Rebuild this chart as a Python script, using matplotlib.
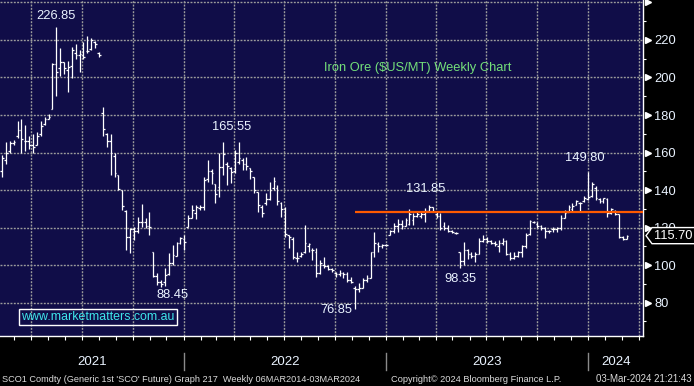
import datetime as dt
import numpy as np
import matplotlib
matplotlib.use("Agg")
import matplotlib.pyplot as plt
import matplotlib.transforms as mtransforms
from matplotlib.patches import Polygon

plt.rcParams['font.family'] = ['Liberation Sans', 'DejaVu Sans']

# weekly OHLC, SCO1 iron ore (first bar week of 1 Feb 2021)
opens = [150, 156, 161, 165, 169, 172, 166, 166, 164, 164,
         170, 175, 178, 183, 207, 205, 208, 204, 206, 213,
         212, 212, 214, 215, 219, 213, 181, 170, 166, 158,
         148, 140, 129, 115, 119, 118, 123, 123, 121, 107,
         94, 91, 91, 95, 101, 105, 112, 114, 120.4, 125,
         128, 130.5, 131, 146, 150, 143, 141.7, 152.4, 154, 152,
         150, 155, 156, 154, 152, 147, 139, 131, 133, 135,
         141, 141, 133, 130, 116, 114, 104, 105, 107, 110,
         108, 107, 96, 100, 99.5, 98, 96, 95.5, 96, 95,
         92, 88, 87, 88, 92, 93, 107, 111, 110, 110.5,
         116, 118, 121, 122, 121, 122, 124, 126, 126, 127,
         129, 131, 127, 126, 121, 120, 118, 117, 107, 102,
         108, 106, 105, 106, 113, 114, 113, 112, 110, 112,
         113, 106, 104, 105, 107, 110, 116.5, 123, 122, 121,
         120, 118, 119, 119, 120, 125, 128.4, 130, 132, 133,
         134, 135, 137, 141, 135, 134, 135, 128, 129, 127,
         115, 114]
highs = [158.6, 165.7, 166, 166.5, 177, 178, 174.6, 169, 170, 171,
         177, 179, 180.5, 207.5, 226.85, 215.5, 208.5, 209, 216, 217.8,
         214.6, 219, 222, 221, 219.6, 213.7, 184, 170.5, 170, 160,
         148, 140, 129.3, 119.7, 120.4, 125.7, 132.5, 124.9, 128.4, 107.1,
         95.7, 92, 98.4, 106.4, 110.6, 112.4, 115.1, 116, 126.6, 132,
         132, 132, 147, 155.9, 151, 143, 159.5, 165.7, 155.1, 152.4,
         161.3, 165.55, 157, 157.5, 152, 147, 139.1, 132, 138.2, 144.4,
         147, 142.6, 133.7, 131, 116, 115.1, 107.1, 107.1, 121.3, 112,
         109, 108.9, 102.6, 104.4, 100, 98.5, 96.5, 97.5, 96.4, 96.4,
         93.4, 89, 90.2, 92.9, 94.6, 107.1, 117.9, 112.4, 111.5, 111,
         118.6, 122.2, 124.3, 124, 124.9, 130.1, 127.5, 128.4, 128.4, 130.2,
         131.85, 131, 128.4, 127.5, 123, 121.3, 118.5, 117.5, 107.1, 112.4,
         108.4, 107, 107.1, 114.2, 116, 115, 113.3, 113, 113.3, 114.2,
         113.3, 107.1, 107, 107.7, 110.6, 116.9, 124, 123.6, 123, 121.3,
         120.4, 118.6, 120.5, 120.4, 126.6, 129.3, 132, 133, 134.6, 133.7,
         136.8, 149.8, 144.4, 142, 135.5, 136, 135.5, 130.5, 129.5, 127,
         115.5, 116]
lows = [147, 153.8, 160, 164, 168, 160, 161, 162, 159.7, 164,
        169, 174.6, 177.8, 183, 190, 201, 202, 192, 199.5, 210,
        203, 210, 212.9, 214.6, 215.5, 210.7, 169, 163, 148, 147,
        140, 129.3, 108, 106.4, 113.3, 117, 120.4, 120, 116, 93.7,
        89.3, 88.45, 89, 94.6, 100, 105, 111.5, 108, 120.4, 124.9,
        124.3, 129.3, 129.3, 144.4, 143, 133, 136.4, 148, 142.6, 143.5,
        148.9, 154, 150.6, 150.6, 146, 138.2, 128.4, 125.7, 132, 134.6,
        140, 132, 125.7, 115.1, 108.9, 103.5, 101.7, 104.4, 106.2, 107,
        102.6, 93.7, 95.5, 98.2, 97.3, 96.5, 93.4, 94, 93, 91.1,
        90.2, 76.85, 85.7, 88, 91.1, 92.9, 104.4, 107, 109, 110,
        116, 116.9, 117.7, 119, 121, 121.3, 121.3, 125.7, 124.9, 123,
        128.4, 128.4, 124.9, 118.6, 118.6, 117.7, 116.9, 116.5, 98.35, 100,
        103.5, 104, 101.7, 106, 112.4, 112, 111.5, 110, 107.1, 110.6,
        105.3, 102.7, 103, 104.4, 104.4, 108.9, 116, 122.2, 120, 118.6,
        114.2, 117.2, 117.5, 117.7, 118.6, 124.9, 128.4, 129, 132, 128.4,
        133.7, 134.6, 136.4, 134.6, 133.2, 132.9, 125.7, 127, 126.6, 114.2,
        113.5, 114]
closes = [157, 160, 165, 165.5, 172, 167, 166, 164, 163, 169,
          174, 178, 179, 207, 203, 208, 205, 205.7, 214.6, 212,
          212.6, 211, 214, 220, 218, 212, 172.5, 166, 160, 149,
          140.5, 131.5, 115, 119.5, 118, 123, 123, 121, 120.5, 94,
          91, 90, 94.6, 101, 105.3, 112, 114.7, 112.4, 125, 129.6,
          130.7, 131, 145.6, 150, 149, 138, 152.4, 159, 153, 149.7,
          160, 157, 154, 153, 150, 140, 132, 128, 135, 140,
          145, 134, 130, 116.5, 115, 104.5, 104, 106, 112, 111,
          108, 96, 101, 99.5, 98, 97.5, 95.5, 96, 95, 92,
          91, 87, 88, 92, 93, 107, 112, 110, 110.5, 110.5,
          118, 121, 122, 121, 124, 127, 126, 127, 127, 129,
          131, 129, 126, 120, 120, 118, 117.5, 117, 102, 108,
          106, 105, 106, 113, 114, 113, 112, 111, 112, 113,
          106, 104, 105, 107, 110, 116, 123.5, 123, 121, 120,
          118, 118, 119, 120, 125, 128, 131, 131.5, 134, 133,
          136, 136.5, 143, 136, 134, 135.5, 128, 130, 127, 115,
          114, 115.7]

first_week = dt.date(2021, 2, 1)
y_major = [80, 100, 120, 140, 160, 180, 200, 220, 240]
y_labels = ['80', '100', '120', '140', '160', '180', '200', '220']
years = [2021, 2022, 2023, 2024]
resistance = 128.3
# (bar, which, dx px, dy px)
callouts = [(14, 'high', 0, 11), (61, 'high', -7, 15), (41, 'low', 11, -8),
            (91, 'low', -19, -1), (110, 'high', -3, 16), (118, 'low', 1, -11),
            (151, 'high', -3, 14)]

navy = '#100d48'
txt = '#eaf3ff'


def pos(d):
    return (d - first_week).days / 7 - 0.9


fig = plt.figure(figsize=(6.94, 3.86), dpi=100, facecolor='black')
ax = fig.add_axes([0, 50 / 386, 643 / 694, 336 / 386])
ax.set_facecolor(navy)
xmin, xmax = -0.515, 165.2
ax.set_xlim(xmin, xmax)
ax.set_ylim(62.2, 241.3)

# grid
grid_kw = dict(color='#9c9c9c', lw=1.0, ls=(0, (1.4, 1.0)), zorder=1)
for y in y_major:
    ax.axhline(y, **grid_kw)
month_pos = []
for yr in range(2021, 2025):
    for m in range(1, 13):
        p = pos(dt.date(yr, m, 1))
        if xmin <= p <= xmax:
            month_pos.append(p)
            if m in (1, 4, 7, 10):
                ax.axvline(p, **grid_kw)

# bars
x = np.arange(len(closes))
ax.vlines(x, lows, highs, color='white', lw=0.9, zorder=3)
ax.hlines(opens, x - 0.45, x, color='white', lw=0.9, zorder=3)
ax.hlines(closes, x, x + 0.45, color='white', lw=0.9, zorder=3)

# resistance line from the 2022 low
low_idx = int(np.argmin(lows))
ax.hlines(resistance, low_idx, xmax, color='#ff5a00', lw=1.6, zorder=4)

for i, kind, dx, dy in callouts:
    v = highs[i] if kind == 'high' else lows[i]
    ax.annotate(f'{v:.2f}', xy=(i, v), xytext=(dx, dy), textcoords='offset pixels',
                ha='center', va='center', color=txt, fontsize=9.3, zorder=6)

ax.text(0.650, 0.7976, 'Iron Ore ($US/MT) Weekly Chart', transform=ax.transAxes,
        ha='center', va='center', color='#74e07a', fontsize=9.3)
ax.text(0.1524, 0.0565, 'www.marketmatters.com.au', transform=ax.transAxes,
        ha='center', va='center', color='#3fe6ea', fontsize=8.9,
        bbox=dict(boxstyle='square,pad=0.2', fc='none', ec='white', lw=1))

# axes
for s in ['top', 'left']:
    ax.spines[s].set_visible(False)
for s in ['bottom', 'right']:
    ax.spines[s].set_color('white')
    ax.spines[s].set_linewidth(1)
ax.set_xticks(month_pos)
ax.set_xticklabels([])
ax.tick_params(axis='x', direction='out', length=2.6, width=0.8, color='white')
ax.yaxis.tick_right()
ax.set_yticks(y_major[:-1])
ax.set_yticklabels(y_labels)
ax.set_yticks([v + 10 for v in range(60, 240, 20)], minor=True)
ax.tick_params(axis='y', which='major', length=0, pad=8, labelcolor=txt, labelsize=9.3)
ax.tick_params(axis='y', which='minor', length=2.2, width=0.8, color='white')
bl = mtransforms.blended_transform_factory(ax.transAxes, ax.transData)
ax.plot([1.0075] * len(y_major), y_major, transform=bl, marker='>', ms=4.5,
        color='white', ls='none', clip_on=False)

# last price tag (covers the lower half of the 120 label, as on the terminal)
last = closes[-1]
h = 4.3
tag = Polygon([(1.0047, last), (1.014, last + h), (1.2, last + h), (1.2, last - h),
               (1.014, last - h)], closed=True, transform=bl, fc='black', ec='white',
              lw=1, clip_on=False, zorder=10)
ax.add_patch(tag)
ax.text(1.0165, last, f'{last:.2f}', transform=bl, ha='left', va='center',
        color='white', fontsize=9.3, zorder=11, clip_on=False)

# years under the axis
bx = mtransforms.blended_transform_factory(ax.transData, ax.transAxes)
for yr in years:
    a = pos(dt.date(yr, 1, 1))
    b = pos(dt.date(yr + 1, 1, 1))
    if xmin < a < xmax:
        ax.plot([a, a], [-0.0506, -0.1012], transform=bx, color='#8a8a8a', lw=1,
                clip_on=False)
    c = (max(a, xmin) + min(b, xmax)) / 2
    ax.text(c, -0.077, str(yr), transform=bx, ha='center', va='center',
            color=txt, fontsize=9.5)

fy = (386 - 379) / 386
fig.text(2 / 694, fy, "SCO1 Comdty (Generic 1st 'SCO' Future) Graph 217  Weekly 06MAR2014-03MAR2024",
         ha='left', va='center', color='#dcdcdc', fontsize=6.6)
fig.text(391 / 694, fy, 'Copyright\u00a9 2024 Bloomberg Finance L.P.', ha='left', va='center',
         color='#dcdcdc', fontsize=6.7)
fig.text(692 / 694, fy, '03-Mar-2024 21:21:43', ha='right', va='center',
         color='#dcdcdc', fontsize=7.0)

fig.savefig('out.png', dpi=100, facecolor='black')
